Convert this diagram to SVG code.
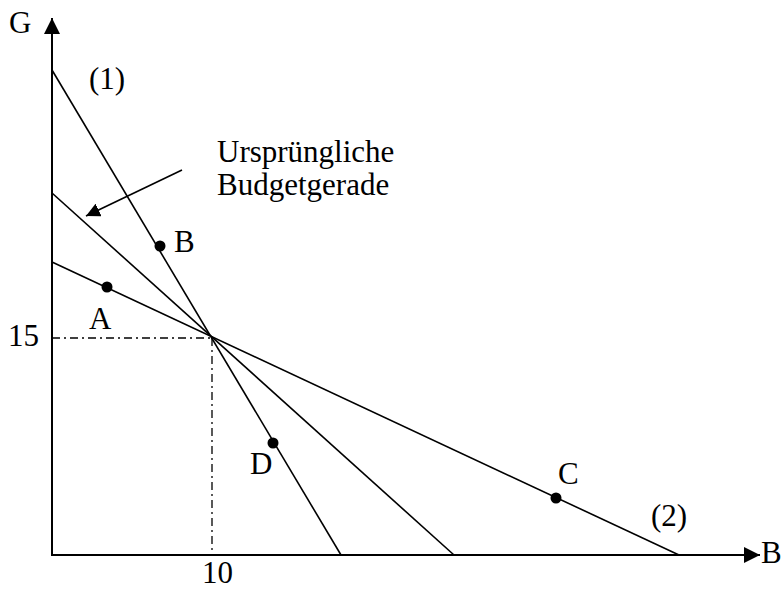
<svg xmlns="http://www.w3.org/2000/svg" width="783" height="591" viewBox="0 0 783 591">
<defs>
<style>
text{font-family:"Liberation Serif","Times New Roman",serif;font-size:31px;fill:#000}
.ln{stroke:#000;stroke-width:1.6;fill:none}
.ax{stroke:#000;stroke-width:2;fill:none}
.dd{stroke:#000;stroke-width:1.3;fill:none;stroke-dasharray:8 4 2 4}
.pt{fill:#000}
</style>
<marker id="ah" viewBox="0 0 10 10" refX="10" refY="5" markerWidth="16" markerHeight="16" markerUnits="userSpaceOnUse" orient="auto"><path d="M0,0 L10,5 L0,10 z" fill="#000"/></marker>
<marker id="ah2" viewBox="0 0 10 10" refX="10" refY="5" markerWidth="14" markerHeight="14" markerUnits="userSpaceOnUse" orient="auto"><path d="M0,0 L10,5 L0,10 z" fill="#000"/></marker>
</defs>
<g id="axes">
<line class="ax" x1="52" y1="556" x2="52" y2="18" marker-end="url(#ah)"/>
<line class="ax" x1="51" y1="555" x2="760" y2="555" marker-end="url(#ah)"/>
<text x="761" y="563" font-size="30">B</text>
<text x="9" y="33">G</text>
<text x="8" y="346">15</text>
<text x="202" y="583">10</text>
</g>
<g id="connectors">
<line class="dd" x1="52" y1="338" x2="212" y2="338"/>
<line class="dd" x1="212" y1="338" x2="212" y2="555"/>
<line class="ln" x1="52" y1="70" x2="341" y2="555"/>
<line class="ln" x1="52" y1="193" x2="454" y2="555"/>
<line class="ln" x1="52" y1="262" x2="679" y2="555"/>
<line class="ln" x1="182" y1="170" x2="86" y2="216" marker-end="url(#ah2)"/>
</g>
<g id="line1-label"><text x="89" y="89">(1)</text></g>
<g id="line2-label"><text x="651" y="526">(2)</text></g>
<g id="budget-label"><text x="217" y="162" font-size="33">Ursprüngliche</text><text x="217" y="195" font-size="33">Budgetgerade</text></g>
<g id="pointA"><circle class="pt" cx="107" cy="287" r="5.5"/><text x="89" y="329">A</text></g>
<g id="pointB"><circle class="pt" cx="160" cy="246" r="5.5"/><text x="174" y="252">B</text></g>
<g id="pointC"><circle class="pt" cx="556" cy="498" r="5.5"/><text x="558" y="484">C</text></g>
<g id="pointD"><circle class="pt" cx="273" cy="443" r="5.5"/><text x="250" y="474">D</text></g>
</svg>
